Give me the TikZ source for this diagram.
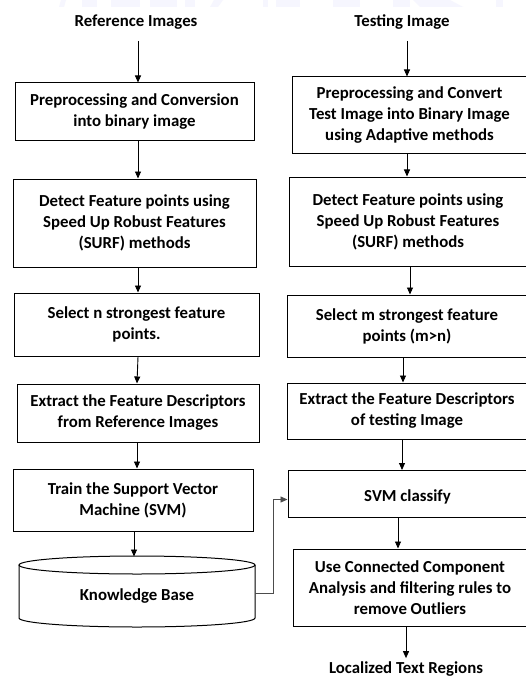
\documentclass[tikz,border=0pt]{standalone}
\usepackage{fontspec}
\setmainfont{Carlito}
\usetikzlibrary{arrows.meta}
\begin{document}
\begin{tikzpicture}[x=1pt,y=1pt,
  font=\fontsize{16.8}{21}\selectfont\bfseries,
  stepbox/.style={draw, line width=1pt, align=center, inner sep=0pt},
  arr/.style={line width=0.9pt, -{Triangle[length=7pt,width=6pt]}}]
\useasboundingbox (0,0) rectangle (526,-679);
\clip (0,0) rectangle (526,-679);
\fill[white] (0,0) rectangle (526,-679);

% faint lettering along the top edge
\begin{scope}[fill=gray!16!blue!4!white]
\fill (61,0) -- (66,0) -- (64,-7) -- (59,-7) -- cycle;
\fill (82,0) rectangle (97,-7);
\fill (111,0) rectangle (140,-7);
\fill (150,0) rectangle (177,-7);
\fill (185,0) rectangle (195,-7);
\fill (214,0) -- (223,0) -- (218,-7) -- (210,-7) -- cycle;
\fill (263,0) rectangle (268,-7);
\fill (276,0) rectangle (300,-7);
\fill (333,0) rectangle (360,-7);
\fill (393,0) rectangle (410,-7);
\fill (413,0) -- (450,0) -- (463,-7) -- (420,-7) -- cycle;
\fill (496,0) rectangle (503,-7);
\end{scope}

% left column: reference images
\node (LT) at (136,-22) {Reference Images};
\node[stepbox, minimum width=239pt, minimum height=58pt] (L1) at (134.5,-112)
  {Preprocessing and Conversion\\into binary image};
\node[stepbox, minimum width=243pt, minimum height=88pt] (L2) at (134.5,-223)
  {Detect Feature points using\\Speed Up Robust Features\\(SURF) methods};
\node[stepbox, minimum width=245pt, minimum height=63pt] (L3) at (136.5,-324.5)
  {Select n strongest feature\\points.};
\node[stepbox, minimum width=242pt, minimum height=58pt] (L4) at (138,-413)
  {Extract the Feature Descriptors\\from Reference Images};
\node[stepbox, minimum width=240pt, minimum height=62pt] (L5) at (133,-500)
  {Train the Support Vector\\Machine (SVM)};

% knowledge base drum
\draw[line width=1pt] (19,-565) -- (19,-618)
  arc[start angle=180, end angle=360, x radius=118pt, y radius=9pt] -- (255,-565);
\draw[line width=1pt] (137,-565) ellipse [x radius=118pt, y radius=9pt];
\node[minimum width=236pt, minimum height=40pt, inner sep=0pt] (KB) at (137,-596) {Knowledge Base};

% right column: testing image
\node (RT) at (402,-22) {Testing Image};
\node[stepbox, minimum width=235pt, minimum height=77pt] (R1) at (409.5,-115.5)
  {Preprocessing and Convert\\Test Image into Binary Image\\using Adaptive methods};
\node[stepbox, minimum width=238pt, minimum height=89pt] (R2) at (408,-221.5)
  {Detect Feature points using\\Speed Up Robust Features\\(SURF) methods};
\node[stepbox, minimum width=240pt, minimum height=62pt] (R3) at (407,-326)
  {Select m strongest feature\\points (m>n)};
\node[stepbox, minimum width=240pt, minimum height=56pt] (R4) at (407,-411)
  {Extract the Feature Descriptors\\of testing Image};
\node[stepbox, minimum width=239pt, minimum height=47pt, anchor=north] (R5) at (407.5,-470)
  {\raisebox{0pt}[14pt][0pt]{SVM classify}};
\node[stepbox, minimum width=234pt, minimum height=77pt] (R6) at (410,-587.5)
  {Use Connected Component\\Analysis and filtering rules to\\remove Outliers};
\node (RE) at (406,-669) {Localized Text Regions};

% left arrows
\draw[arr] ([xshift=2pt,yshift=-8pt]LT.south) -- ([xshift=3.5pt]L1.north);
\draw[arr] ([xshift=3.5pt]L1.south) -- ([xshift=3.5pt]L2.north);
\draw[arr] ([xshift=3.5pt]L2.south) -- ([xshift=1.5pt]L3.north);
\draw[arr] ([xshift=1.5pt]L3.south) -- ([xshift=-1pt]L4.north);
\draw[arr] ([xshift=-1pt]L4.south) -- ([xshift=4pt]L5.north);
\draw[arr] ([xshift=1pt]L5.south) -- ++(0,-25);

% right arrows
\draw[arr] ([xshift=5pt,yshift=-8pt]RT.south) -- ([xshift=-2.5pt]R1.north);
\draw[arr] ([xshift=-2.5pt]R1.south) -- ([xshift=-1pt]R2.north);
\draw[arr] ([xshift=2pt]R2.south) -- ([xshift=3pt]R3.north);
\draw[arr] ([xshift=-4pt]R3.south) -- ([xshift=-4pt]R4.north);
\draw[arr] ([xshift=-5pt]R4.south) -- ([xshift=-5.5pt]R5.north);
\draw[arr] ([xshift=-9.5pt]R5.south) -- ([xshift=-12pt]R6.north);
\draw[arr] ([xshift=-4pt]R6.south) -- (RE.north);

% knowledge base feeds the classifier
\draw[arr, draw=black!70] ([yshift=3pt]KB.east) -- ++(18pt,0) |- ([yshift=-5.5pt]R5.west);
\end{tikzpicture}
\end{document}
